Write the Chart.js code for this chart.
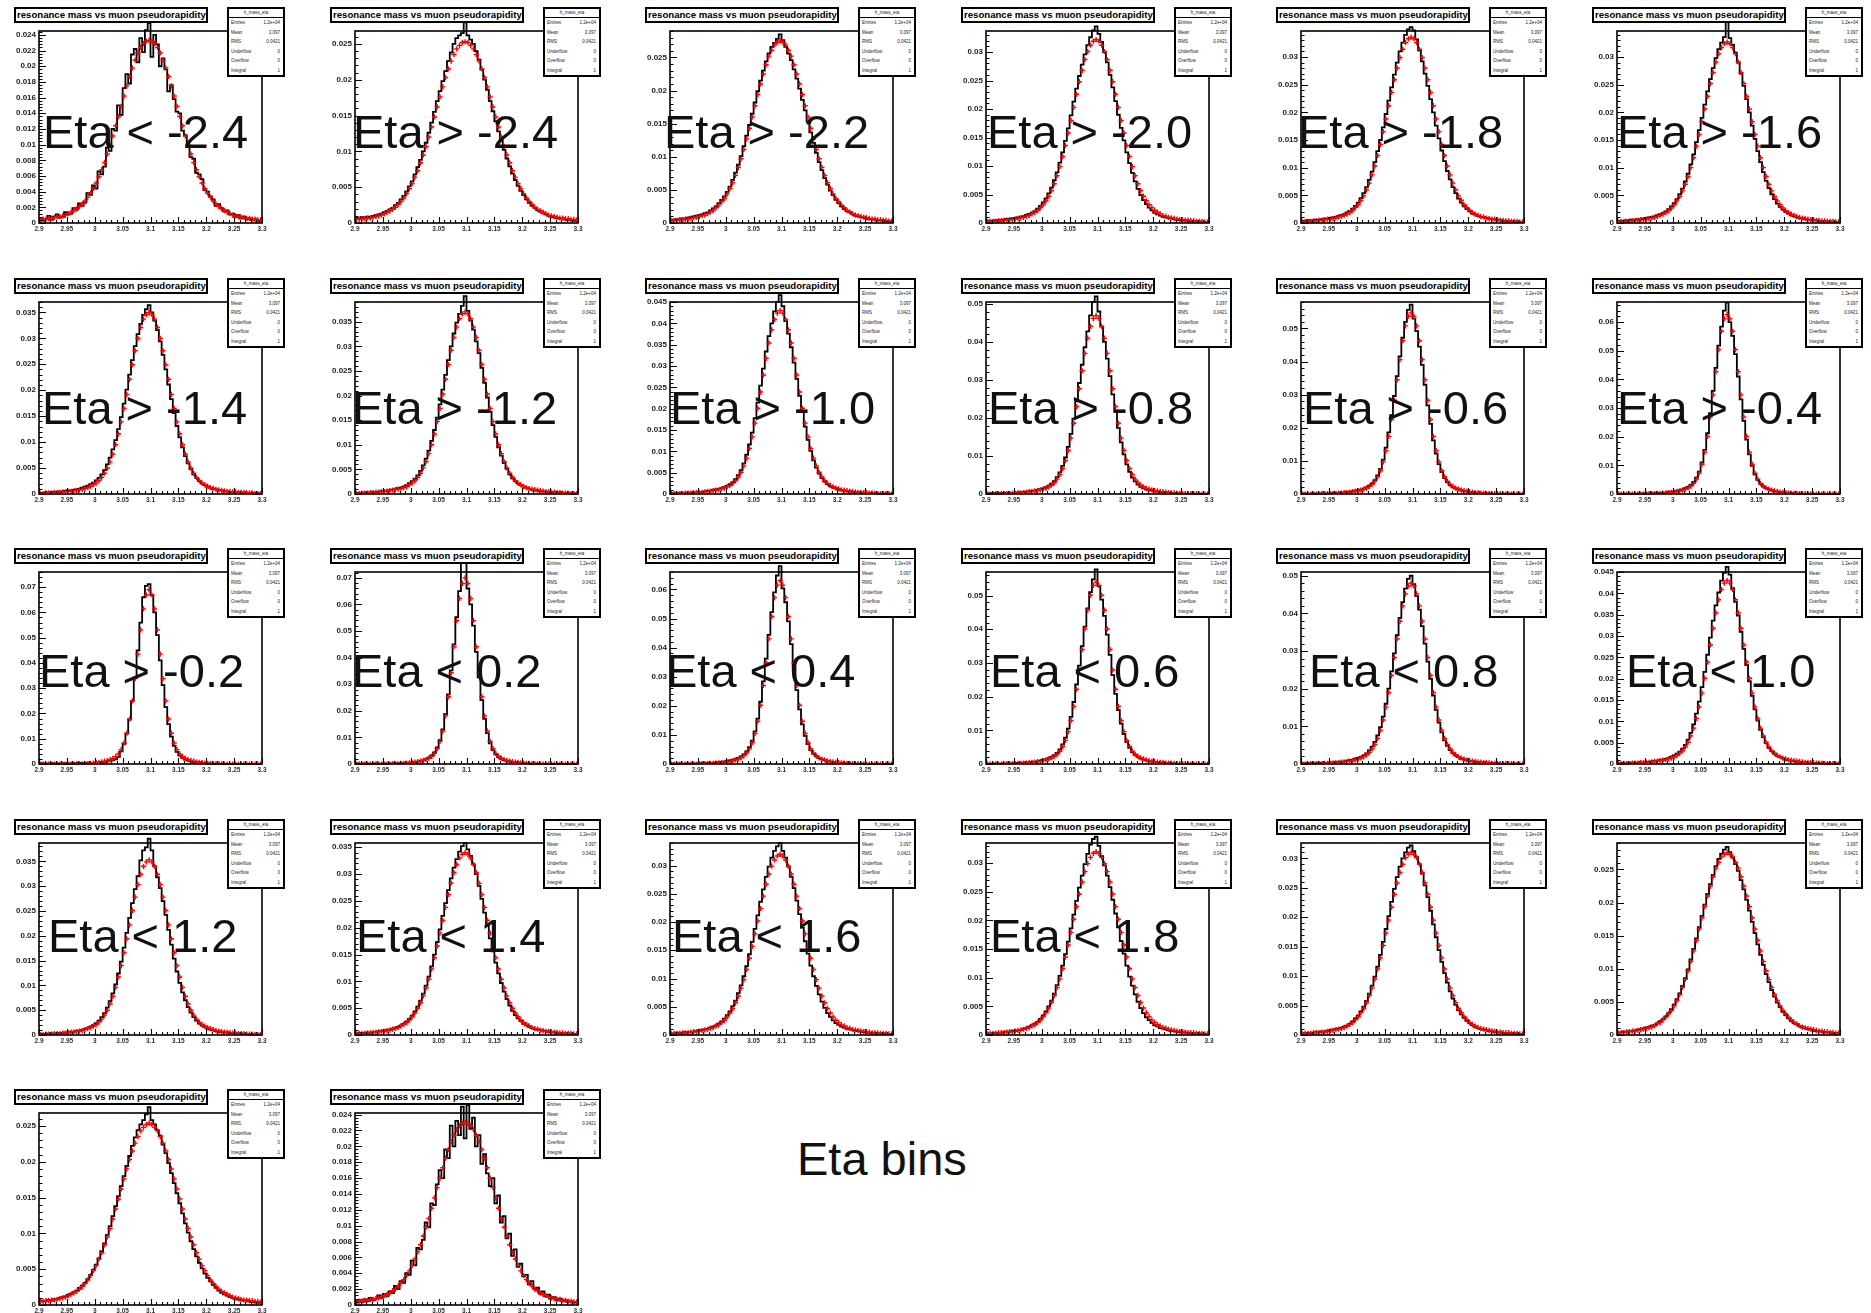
<!DOCTYPE html>
<html>
<head>
<meta charset="utf-8">
<script src="https://cdn.jsdelivr.net/npm/chart.js@4.4.1/dist/chart.umd.min.js"></script>
<style>
  html, body { margin: 0; padding: 0; background: #fff; }
  #page { position: relative; width: 1871px; height: 1313px; overflow: hidden; background: #fff; font-family: "Liberation Sans", Arial, sans-serif; }
  canvas.pad { position: absolute; }
  .ttl { position: absolute; width: 190px; height: 12px; border: 2px solid #000; background: #fff; font: bold 9.6px "Liberation Sans"; line-height: 12px; white-space: nowrap; overflow: hidden; }
  .ttl span { padding-left: 1px; }
  .stats { position: absolute; width: 54px; height: 66px; border: 2px solid #000; background: #fff; font: 4.5px "Liberation Sans"; color: #222; }
  .stats .hd { height: 8px; border-bottom: 1.5px solid #000; text-align: center; line-height: 8px; }
  .stats .row { display: flex; justify-content: space-between; height: 9.5px; line-height: 9.5px; padding: 0 3px 0 2px; }
  .eta { position: absolute; font: 47px "Liberation Sans"; line-height: 47px; color: #111; white-space: nowrap; }
</style>
</head>
<body>
<div id="page"></div>
<script>
// bin centres of the resonance mass histograms (GeV), 80 bins of 5 MeV
const massBins = [
  2.9025, 2.9075, 2.9125, 2.9175, 2.9225, 2.9275, 2.9325, 2.9375, 2.9425, 2.9475,
  2.9525, 2.9575, 2.9625, 2.9675, 2.9725, 2.9775, 2.9825, 2.9875, 2.9925, 2.9975,
  3.0025, 3.0075, 3.0125, 3.0175, 3.0225, 3.0275, 3.0325, 3.0375, 3.0425, 3.0475,
  3.0525, 3.0575, 3.0625, 3.0675, 3.0725, 3.0775, 3.0825, 3.0875, 3.0925, 3.0975,
  3.1025, 3.1075, 3.1125, 3.1175, 3.1225, 3.1275, 3.1325, 3.1375, 3.1425, 3.1475,
  3.1525, 3.1575, 3.1625, 3.1675, 3.1725, 3.1775, 3.1825, 3.1875, 3.1925, 3.1975,
  3.2025, 3.2075, 3.2125, 3.2175, 3.2225, 3.2275, 3.2325, 3.2375, 3.2425, 3.2475,
  3.2525, 3.2575, 3.2625, 3.2675, 3.2725, 3.2775, 3.2825, 3.2875, 3.2925, 3.2975
];
const xTickValues = [2.9, 2.95, 3.0, 3.05, 3.1, 3.15, 3.2, 3.25, 3.3];
const xTickLabels = ["2.9", "2.95", "3", "3.05", "3.1", "3.15", "3.2", "3.25", "3.3"];

const etaLabels = [
  "Eta < -2.4", "Eta > -2.4", "Eta > -2.2", "Eta > -2.0", "Eta > -1.8", "Eta > -1.6",
  "Eta > -1.4", "Eta > -1.2", "Eta > -1.0", "Eta > -0.8", "Eta > -0.6", "Eta > -0.4",
  "Eta > -0.2", "Eta < 0.2", "Eta < 0.4", "Eta < 0.6", "Eta < 0.8", "Eta < 1.0",
  "Eta < 1.2", "Eta < 1.4", "Eta < 1.6", "Eta < 1.8", "", "", "", ""
];

// y axis range and label step per pad, in units of 1e-4
const yMax = [245, 268, 290, 337, 347, 347, 370, 390, 450, 505, 580, 670, 760, 722, 660, 570, 510, 450, 387, 358, 340, 335, 326, 290, 268, 242];
const yStep = [20, 50, 50, 50, 50, 50, 50, 50, 50, 100, 100, 100, 100, 100, 100, 100, 100, 50, 50, 50, 50, 50, 50, 50, 50, 20];

// red points (fit) and black histogram per pad, in units of 1e-4
const fit01 = [4,5,5,6,6,7,8,8,9,10,12,14,16,18,21,24,28,33,38,44,51,59,68,77,88,99,111,124,136,149,162,175,187,198,208,217,224,229,232,233,232,229,224,217,208,198,187,175,162,149,136,124,111,99,88,77,68,59,51,44,38,33,28,24,21,18,16,14,12,10,9,8,8,7,6,6,5,5,4,4];
const hist01 = [6,3,5,9,4,8,11,7,8,14,11,12,19,17,25,22,26,38,36,48,44,66,62,72,96,92,120,118,150,138,172,190,178,215,222,205,236,218,246,255,212,240,228,200,210,196,168,176,158,142,140,118,112,100,84,82,64,62,56,42,40,34,30,22,24,19,15,16,11,12,8,10,6,8,5,6,4,5,3,2];
const fit02 = [5,5,6,6,7,7,8,9,10,11,13,15,17,19,22,26,30,35,41,48,55,64,73,84,95,107,120,134,148,162,176,190,203,215,226,235,243,248,252,253,252,248,243,235,226,215,203,190,176,162,148,134,120,107,95,84,73,64,55,48,41,35,30,26,22,19,17,15,13,11,10,9,8,7,7,6,6,5,5,4];
const hist02 = [7,6,8,7,9,8,10,11,12,13,15,17,19,21,25,28,33,38,44,51,58,68,78,88,100,112,126,140,155,170,184,198,212,226,238,250,258,262,265,280,262,256,250,240,228,214,200,186,170,156,142,128,115,102,90,79,69,60,52,45,39,33,28,24,21,18,16,14,12,10,9,8,7,6,6,5,4,4,3,3];
const fit03 = [3,4,4,5,5,6,6,7,8,9,10,11,12,14,17,19,23,27,32,37,44,52,61,72,84,97,111,127,143,160,177,194,210,225,239,252,261,269,273,275,273,269,261,252,239,225,210,194,177,160,143,127,111,97,84,72,61,52,44,37,32,27,23,19,17,14,12,11,10,9,8,7,6,6,5,5,4,4,3,3];
const hist03 = [5,4,6,5,7,6,8,9,10,11,12,13,15,16,19,22,25,30,35,40,47,55,65,76,88,101,116,132,148,165,182,199,215,230,244,256,266,272,278,285,276,266,256,246,232,218,203,186,170,153,137,121,106,92,80,68,58,49,42,35,30,25,21,18,16,13,11,10,9,8,7,6,6,5,4,4,4,3,3,2];
const fit04 = [2,3,3,3,4,4,5,5,6,6,7,8,9,10,12,13,16,19,22,27,32,39,47,57,69,83,99,117,136,158,180,203,226,248,268,287,301,312,319,322,319,312,301,287,268,248,226,203,180,158,136,117,99,83,69,57,47,39,32,27,22,19,16,13,12,10,9,8,7,6,6,5,5,4,4,3,3,3,2,2];
const hist04 = [4,3,4,5,5,4,6,7,7,8,9,10,11,12,14,16,18,21,25,30,36,43,52,62,75,89,106,124,144,166,189,213,236,258,278,296,312,326,338,345,332,318,300,282,260,238,214,190,167,145,124,105,88,73,60,49,40,33,27,22,18,15,13,11,10,9,8,7,6,5,5,4,4,3,3,3,2,2,2,2];
const fit05 = [2,3,3,3,4,4,5,5,6,7,7,8,9,11,12,14,16,19,23,28,33,41,49,60,72,87,103,122,142,165,188,212,236,259,280,299,314,326,333,336,333,326,314,299,280,259,236,212,188,165,142,122,103,87,72,60,49,41,33,28,23,19,16,14,12,11,9,8,7,7,6,5,5,4,4,3,3,3,2,2];
const hist05 = [4,3,5,4,5,6,6,7,8,8,9,10,11,13,14,16,19,22,26,31,37,45,54,65,78,93,110,130,150,173,197,221,245,268,290,310,326,340,350,354,348,332,312,292,270,248,224,200,176,153,131,112,94,79,65,54,44,37,30,25,21,17,15,13,11,10,9,8,7,6,6,5,4,4,4,3,3,2,2,2];
const fit06 = [2,3,3,3,4,4,5,5,6,6,7,8,9,10,12,14,16,19,22,27,33,40,48,58,70,84,100,118,139,160,183,206,229,252,272,291,306,317,324,327,324,317,306,291,272,252,229,206,183,160,139,118,100,84,70,58,48,40,33,27,22,19,16,14,12,10,9,8,7,6,6,5,5,4,4,3,3,3,2,2];
const hist06 = [4,4,3,5,5,6,5,7,7,8,9,10,11,12,14,16,18,21,25,30,36,43,52,62,75,89,106,124,146,168,190,214,238,260,280,298,314,326,336,375,334,322,308,290,270,248,224,200,176,152,130,110,92,76,63,52,43,35,29,24,20,17,14,12,10,9,8,7,6,6,5,5,4,4,3,3,3,2,2,2];
const fit07 = [1,1,2,2,2,3,3,3,4,4,5,5,6,7,8,9,11,12,15,18,21,26,32,40,50,62,77,95,116,139,165,192,221,249,276,300,321,337,346,350,346,337,321,300,276,249,221,192,165,139,116,95,77,62,50,40,32,26,21,18,15,12,11,9,8,7,6,5,5,4,4,3,3,3,2,2,2,1,1,1];
const hist07 = [2,2,3,2,3,4,4,5,5,6,7,7,8,9,10,12,14,16,19,22,26,31,38,46,57,70,86,104,125,148,174,201,230,258,285,308,328,345,356,364,350,334,316,294,268,240,211,183,156,131,109,90,73,59,48,38,31,25,20,17,14,12,10,9,8,7,6,5,4,4,3,3,3,2,2,2,2,1,1,1];
const fit08 = [1,1,2,2,2,3,3,4,4,5,5,6,7,8,9,10,11,13,15,19,22,27,34,42,53,66,82,100,122,147,174,203,233,263,292,318,339,356,366,370,366,356,339,318,292,263,233,203,174,147,122,100,82,66,53,42,34,27,22,19,15,13,11,10,9,8,7,6,5,5,4,4,3,3,2,2,2,1,1,1];
const hist08 = [2,2,2,3,3,3,4,4,5,6,6,7,8,9,10,12,13,15,18,22,26,31,38,47,58,72,88,108,130,155,182,212,242,272,300,326,348,366,382,402,372,352,334,310,286,256,226,196,167,140,116,95,78,63,51,40,32,26,21,18,15,13,11,9,8,7,6,5,5,4,4,3,3,3,2,2,2,1,1,1];
const fit09 = [1,1,1,1,1,2,2,2,3,3,4,4,5,6,7,8,9,10,12,14,17,20,25,31,40,51,66,84,107,134,166,201,239,279,318,354,385,409,424,430,424,409,385,354,318,279,239,201,166,134,107,84,66,51,40,31,25,20,17,14,12,10,9,8,7,6,5,4,4,3,3,2,2,2,1,1,1,1,1,0];
const hist09 = [2,1,2,2,2,2,3,3,3,4,5,5,6,7,8,9,11,12,14,16,19,23,28,35,44,56,72,92,116,144,178,214,254,294,334,370,400,428,450,466,440,405,376,344,308,270,230,192,158,127,101,79,62,48,37,29,23,18,15,13,11,9,8,7,6,5,4,4,3,3,3,2,2,2,1,1,1,1,1,1];
const fit10 = [0,0,0,1,1,1,1,1,2,2,2,3,3,4,5,6,7,8,9,11,13,15,19,23,30,39,51,67,88,115,147,186,230,277,324,370,410,441,462,469,462,441,410,370,324,277,230,186,147,115,88,67,51,39,30,23,19,15,13,11,9,8,7,6,5,4,3,3,2,2,2,1,1,1,1,1,0,0,0,0];
const hist10 = [2,1,2,2,1,2,2,3,2,3,3,4,4,5,6,7,8,9,11,13,15,18,22,27,34,44,57,74,96,124,158,198,244,292,340,386,428,470,505,520,480,440,400,356,310,262,216,174,136,104,78,58,43,33,25,19,15,12,10,9,7,6,5,5,4,3,3,2,2,2,1,1,1,1,1,1,1,0,0,1];
const fit11 = [0,0,0,0,0,0,0,1,1,1,1,2,2,3,3,4,5,6,7,9,10,12,15,18,23,29,39,52,71,97,131,174,225,283,345,406,463,508,537,547,537,508,463,406,345,283,225,174,131,97,71,52,39,29,23,18,15,12,10,9,7,6,5,4,3,3,2,2,1,1,1,1,0,0,0,0,0,0,0,0];
const hist11 = [1,2,1,1,2,1,2,2,1,2,2,3,3,4,4,5,6,7,8,10,11,13,16,20,25,32,42,56,76,104,140,186,238,296,356,416,472,520,556,572,530,492,445,390,330,268,212,162,122,90,66,48,36,27,21,16,13,11,9,8,6,5,4,4,3,3,2,2,1,1,1,1,1,1,0,1,0,0,0,0];
const fit12 = [0,0,0,0,0,0,0,0,0,0,1,1,1,1,2,2,3,4,5,6,7,9,11,14,17,21,28,37,52,73,104,146,201,269,346,427,504,568,611,626,611,568,504,427,346,269,201,146,104,73,52,37,28,21,17,14,11,9,7,6,5,4,3,2,2,1,1,1,1,0,0,0,0,0,0,0,0,0,0,0];
const hist12 = [1,1,0,1,1,1,1,1,2,1,2,2,2,3,3,4,4,5,6,8,9,11,13,16,20,25,32,42,57,78,110,154,212,282,360,440,518,584,640,668,600,552,488,410,330,255,190,138,98,69,49,35,26,20,16,13,10,8,7,6,5,4,3,2,2,1,1,1,1,1,0,0,0,0,0,0,0,0,0,0];
const fit13 = [0,0,0,0,0,0,0,0,0,0,0,0,0,1,1,1,2,2,3,4,6,7,9,11,14,17,22,29,40,57,83,122,178,250,338,435,531,614,669,690,669,614,531,435,338,250,178,122,83,57,40,29,22,17,14,11,9,7,6,4,3,2,2,1,1,1,0,0,0,0,0,0,0,0,0,0,0,0,0,0];
const hist13 = [3,2,2,1,3,2,1,2,3,2,1,2,3,2,4,2,3,3,4,3,5,4,6,8,10,12,14,18,28,50,80,120,176,250,342,450,560,660,705,712,668,600,510,410,312,225,158,108,72,48,33,23,17,13,10,8,6,5,4,3,2,2,1,1,1,1,0,0,0,0,0,0,0,0,0,0,0,0,0,0];
const fit14 = [0,0,0,0,0,0,0,0,0,0,0,0,0,1,1,1,2,2,3,4,6,7,9,11,14,17,22,29,40,58,85,124,181,253,343,441,539,623,679,700,679,623,539,441,343,253,181,124,85,58,40,29,22,17,14,11,9,7,6,4,3,2,2,1,1,1,0,0,0,0,0,0,0,0,0,0,0,0,0,0];
const hist14 = [2,1,1,2,1,1,1,2,1,1,2,1,2,2,3,2,3,3,4,5,6,7,9,11,14,18,24,32,44,62,90,130,188,262,352,450,552,650,790,760,660,600,520,422,326,240,170,116,78,52,36,26,19,15,12,9,7,6,5,4,3,2,2,1,1,1,1,0,0,0,0,0,0,0,0,0,0,0,0,0];
const fit15 = [0,0,0,0,0,0,0,0,0,0,1,1,1,1,2,2,3,4,5,6,7,9,11,14,17,21,28,38,52,74,105,147,202,270,348,430,507,572,615,630,615,572,507,430,348,270,202,147,105,74,52,38,28,21,17,14,11,9,7,6,5,4,3,2,2,1,1,1,1,0,0,0,0,0,0,0,0,0,0,0];
const hist15 = [2,1,1,2,1,1,2,1,2,2,2,3,3,3,4,4,5,6,7,8,10,12,14,17,21,26,33,43,58,80,112,156,214,284,362,444,522,590,648,680,604,556,490,412,330,254,188,136,97,68,48,35,26,20,16,13,10,8,7,5,4,4,3,2,2,1,1,1,1,1,0,0,0,0,0,0,0,0,0,0];
const fit16 = [0,0,0,0,0,0,0,1,1,1,1,2,2,3,3,4,5,6,7,8,10,12,15,18,23,29,38,52,70,96,129,171,222,279,340,401,457,501,530,540,530,501,457,401,340,279,222,171,129,96,70,52,38,29,23,18,15,12,10,8,7,6,5,4,3,3,2,2,1,1,1,1,0,0,0,0,0,0,0,0];
const hist16 = [1,1,1,2,1,1,2,2,2,2,3,3,3,4,5,5,6,7,8,10,12,14,17,21,26,33,43,58,78,105,140,184,236,292,350,408,462,510,548,578,528,488,440,384,324,264,208,160,120,89,65,48,35,27,21,16,13,11,9,7,6,5,4,4,3,3,2,2,1,1,1,1,1,0,1,0,0,0,0,0];
const fit17 = [0,0,0,1,1,1,1,1,2,2,2,3,4,4,5,6,7,8,9,11,13,16,19,24,31,40,52,68,90,117,151,190,235,283,332,379,420,452,473,480,473,452,420,379,332,283,235,190,151,117,90,68,52,40,31,24,19,16,13,11,9,8,7,6,5,4,4,3,2,2,2,1,1,1,1,1,0,0,0,0];
const hist17 = [1,2,1,2,2,2,3,2,3,3,4,4,5,5,6,7,8,10,11,14,16,19,23,28,36,46,59,76,98,126,160,200,246,294,342,388,430,466,492,500,478,446,410,366,320,272,226,182,144,110,84,63,48,37,29,22,18,14,12,10,8,7,6,5,4,4,3,3,2,2,2,1,1,1,1,1,0,1,0,0];
const fit18 = [1,1,1,1,1,2,2,2,3,3,4,4,5,6,7,8,9,10,12,14,17,20,25,31,40,51,66,84,107,134,166,201,239,279,318,354,385,409,424,430,424,409,385,354,318,279,239,201,166,134,107,84,66,51,40,31,25,20,17,14,12,10,9,8,7,6,5,4,4,3,3,2,2,2,1,1,1,1,1,0];
const hist18 = [2,2,2,1,2,3,3,3,4,4,4,5,6,7,8,9,10,12,14,17,20,24,29,36,45,57,73,93,118,146,180,216,256,296,336,372,402,430,448,462,444,412,380,348,310,270,232,194,160,128,102,80,63,49,38,30,24,19,16,13,11,9,8,7,6,5,4,4,3,3,2,2,2,2,1,1,1,1,1,1];
const fit19 = [1,1,2,2,2,3,3,3,4,4,5,6,6,7,8,9,11,13,15,18,21,26,32,40,50,63,78,96,117,140,166,194,222,251,278,303,324,340,349,353,349,340,324,303,278,251,222,194,166,140,117,96,78,63,50,40,32,26,21,18,15,13,11,9,8,7,6,6,5,4,4,3,3,3,2,2,2,1,1,1];
const hist19 = [2,2,2,3,2,3,3,4,4,5,5,6,7,8,9,10,12,14,17,20,24,29,36,44,55,68,84,102,124,148,176,206,236,266,294,320,352,372,378,396,372,340,318,296,270,242,212,182,154,128,105,86,70,56,45,36,29,23,19,16,13,11,10,8,7,6,6,5,4,4,3,3,3,2,2,2,1,1,1,1];
const fit20 = [2,3,3,3,4,4,5,5,6,7,7,8,9,11,12,14,17,20,23,28,34,41,50,60,73,88,104,123,144,166,190,214,238,262,283,303,318,330,337,340,337,330,318,303,283,262,238,214,190,166,144,123,104,88,73,60,50,41,34,28,23,20,17,14,12,11,9,8,7,7,6,5,5,4,4,3,3,3,2,2];
const hist20 = [3,4,3,4,5,4,5,6,7,7,8,9,10,12,13,15,18,21,25,30,36,44,53,64,77,92,109,128,150,173,197,222,246,270,292,312,328,342,352,358,346,334,318,300,278,254,228,204,180,156,135,115,97,81,67,55,45,37,31,26,21,18,15,13,11,10,9,8,7,6,5,5,4,4,3,3,3,2,2,2];
const fit21 = [2,3,3,3,4,4,4,5,6,6,7,8,9,10,12,13,16,18,22,26,32,39,47,57,69,83,98,116,136,157,179,202,224,246,267,285,299,310,317,320,317,310,299,285,267,246,224,202,179,157,136,116,98,83,69,57,47,39,32,26,22,18,16,13,12,10,9,8,7,6,6,5,4,4,4,3,3,3,2,2];
const hist21 = [3,3,4,3,4,5,5,5,6,7,8,9,10,11,13,15,17,20,24,29,35,42,51,61,74,88,104,122,143,165,188,212,236,258,280,298,314,326,334,340,326,314,298,280,260,238,214,190,166,144,123,104,87,72,59,48,39,32,26,21,18,15,13,11,10,9,8,7,6,5,5,4,4,4,3,3,3,2,2,2];
const fit22 = [2,3,3,3,4,4,4,5,6,6,7,8,9,10,12,13,16,18,22,26,32,39,47,57,69,83,98,116,136,157,179,202,224,246,267,285,299,310,317,320,317,310,299,285,267,246,224,202,179,157,136,116,98,83,69,57,47,39,32,26,22,18,16,13,12,10,9,8,7,6,6,5,4,4,4,3,3,3,2,2];
const hist22 = [3,2,3,4,4,4,5,6,6,7,7,8,9,11,12,14,17,20,23,28,34,41,50,60,72,87,103,121,141,163,186,210,234,257,278,298,316,332,342,346,330,312,296,278,258,236,212,188,164,142,121,102,86,71,58,47,38,31,26,21,17,15,12,11,10,8,7,7,6,5,5,4,4,3,3,3,2,2,2,2];
const fit23 = [2,3,3,3,4,4,4,5,5,6,7,8,9,10,11,13,15,18,21,26,31,38,45,55,67,80,95,112,131,152,173,195,217,239,258,276,290,301,307,310,307,301,290,276,258,239,217,195,173,152,131,112,95,80,67,55,45,38,31,26,21,18,15,13,11,10,9,8,7,6,5,5,4,4,4,3,3,3,2,2];
const hist23 = [3,3,3,4,4,5,5,6,6,7,8,9,10,11,12,14,16,19,23,28,33,40,48,58,70,84,99,116,136,158,180,202,226,248,268,286,300,310,318,322,312,302,290,274,254,234,211,188,166,144,124,105,89,74,62,51,42,35,29,24,20,17,14,12,10,9,8,7,6,5,5,4,4,3,3,3,3,2,2,2];
const fit24 = [3,4,4,5,5,6,6,7,8,9,10,11,12,14,17,19,23,27,32,37,44,52,61,72,84,97,111,127,143,160,177,194,210,225,239,252,261,269,273,275,273,269,261,252,239,225,210,194,177,160,143,127,111,97,84,72,61,52,44,37,32,27,23,19,17,14,12,11,10,9,8,7,6,6,5,5,4,4,3,3];
const hist24 = [4,4,5,5,6,6,7,8,9,10,11,12,14,15,18,21,24,28,33,39,46,54,63,74,86,99,114,130,146,163,180,197,213,228,242,255,266,274,280,284,276,268,258,248,234,220,204,188,171,154,137,121,106,92,80,68,58,49,42,35,30,25,21,18,16,13,11,10,9,8,7,6,6,5,4,4,4,3,3,3];
const fit25 = [5,5,6,6,7,7,8,9,10,11,13,15,17,19,22,26,30,35,41,48,55,64,73,84,95,107,120,134,148,162,176,190,203,215,226,235,243,248,252,254,252,248,243,235,226,215,203,190,176,162,148,134,120,107,95,84,73,64,55,48,41,35,30,26,22,19,17,15,13,11,10,9,8,7,7,6,6,5,5,4];
const hist25 = [6,5,6,7,6,8,8,10,11,12,14,16,18,20,24,27,31,36,42,49,56,65,75,86,98,110,124,138,152,166,180,194,208,222,234,244,252,258,266,276,258,252,244,236,224,212,198,184,170,156,142,128,114,101,89,78,68,59,51,44,38,33,28,24,20,17,15,13,11,10,9,8,7,6,6,5,4,4,3,3];
const fit26 = [4,5,5,6,6,7,7,8,9,10,12,13,15,18,20,24,28,32,37,43,50,58,67,76,87,98,109,122,135,148,160,173,185,196,206,214,221,226,229,230,229,226,221,214,206,196,185,173,160,148,135,122,109,98,87,76,67,58,50,43,37,32,28,24,20,18,15,13,12,10,9,8,7,7,6,6,5,5,4,4];
const hist26 = [3,6,4,7,5,9,6,8,12,9,14,11,17,15,24,20,30,28,40,38,56,50,72,70,82,104,98,128,126,152,170,160,196,185,226,200,232,214,250,210,252,222,236,200,214,178,190,166,150,160,128,138,104,112,84,90,62,70,48,52,36,38,26,30,20,22,14,17,11,13,8,10,6,8,5,6,4,5,3,3];

const fits = [fit01, fit02, fit03, fit04, fit05, fit06, fit07, fit08, fit09, fit10, fit11, fit12, fit13,
              fit14, fit15, fit16, fit17, fit18, fit19, fit20, fit21, fit22, fit23, fit24, fit25, fit26];
const hists = [hist01, hist02, hist03, hist04, hist05, hist06, hist07, hist08, hist09, hist10, hist11, hist12, hist13,
               hist14, hist15, hist16, hist17, hist18, hist19, hist20, hist21, hist22, hist23, hist24, hist25, hist26];

// where the big eta labels sit: [left, baseline]
const labelPos = [
  [43, 148], [353, 148], [664, 148], [987, 148], [1298, 148], [1617, 148],
  [42, 424], [352, 424], [670, 424], [988, 424], [1303, 424], [1617, 424],
  [39, 687], [352, 687], [666, 687], [990, 687], [1309, 687], [1626, 687],
  [48, 952], [356, 952], [672, 952], [990, 952]
];

const FONT = "Liberation Sans";
const BIN_HALF = 0.0025;

// frame box and ROOT style ticks pointing into the frame
const rootAxes = {
  id: "rootAxes",
  afterDraw(chart) {
    const { ctx, chartArea: a, scales: { x, y } } = chart;
    ctx.save();
    ctx.strokeStyle = "#000";
    ctx.lineWidth = 1.6;
    ctx.strokeRect(a.left, a.top, a.right - a.left, a.bottom - a.top);
    ctx.lineWidth = 1.1;
    ctx.beginPath();
    for (let k = 0; k <= 40; k++) {
      const px = Math.round(x.getPixelForValue(2.9 + k * 0.01)) + 0.5;
      const len = k % 5 === 0 ? 6 : 3;
      ctx.moveTo(px, a.bottom);
      ctx.lineTo(px, a.bottom - len);
    }
    const minor = chart.options.scales.y.ticks.stepSize / 5;
    for (let m = 0; m * minor <= y.max; m++) {
      const py = Math.round(y.getPixelForValue(m * minor)) + 0.5;
      const len = m % 5 === 0 ? 7 : 3.5;
      ctx.moveTo(a.left, py);
      ctx.lineTo(a.left + len, py);
    }
    ctx.stroke();
    ctx.restore();
  }
};

const page = document.getElementById("page");

function addDiv(cls, left, top, html) {
  const d = document.createElement("div");
  d.className = cls;
  d.style.left = left + "px";
  d.style.top = top + "px";
  d.innerHTML = html;
  page.appendChild(d);
  return d;
}

const statsHtml =
  '<div class="hd">h_mass_eta</div>' +
  '<div class="row"><span>Entries</span><span>1.2e+04</span></div>' +
  '<div class="row"><span>Mean</span><span>3.097</span></div>' +
  '<div class="row"><span>RMS</span><span>0.0421</span></div>' +
  '<div class="row"><span>Underflow</span><span>0</span></div>' +
  '<div class="row"><span>Overflow</span><span>0</span></div>' +
  '<div class="row"><span>Integral</span><span>1</span></div>';

for (let p = 0; p < 26; p++) {
  const c = p % 6, r = Math.floor(p / 6);
  const fx = Math.round(39 + 315.5 * c);
  const rowTop = Math.round(7 + 270.5 * r);

  const cv = document.createElement("canvas");
  cv.className = "pad";
  cv.width = 271;
  cv.height = 230;
  cv.style.left = (fx - 38) + "px";
  cv.style.top = rowTop + "px";
  page.appendChild(cv);

  const fitPts = massBins.map((m, i) => ({ x: m, y: fits[p][i] }));
  const histPts = massBins.map((m, i) => ({ x: m - BIN_HALF, y: hists[p][i] }));
  histPts.push({ x: 3.3, y: hists[p][hists[p].length - 1] });

  new Chart(cv.getContext("2d"), {
    type: "line",
    data: {
      datasets: [
        {
          label: "fit",
          data: fitPts,
          showLine: false,
          pointStyle: "cross",
          pointRadius: 2.6,
          pointBorderWidth: 1.4,
          pointBorderColor: "#ff0000",
          pointBackgroundColor: "#ff0000"
        },
        {
          label: "data",
          data: histPts,
          stepped: true,
          borderColor: "#000",
          borderWidth: 1.8,
          pointRadius: 0,
          fill: false,
          clip: false
        }
      ]
    },
    options: {
      responsive: false,
      animation: false,
      devicePixelRatio: 1,
      events: [],
      layout: { padding: { top: 24, right: 10, left: 0, bottom: 0 } },
      plugins: { legend: { display: false }, tooltip: { enabled: false } },
      scales: {
        x: {
          type: "linear",
          min: 2.9,
          max: 3.3,
          grid: { display: false, drawTicks: false },
          border: { display: false },
          afterBuildTicks: s => { s.ticks = xTickValues.map(v => ({ value: v })); },
          afterFit: s => { s.height = 14; },
          ticks: {
            autoSkip: false,
            maxRotation: 0,
            padding: 2,
            color: "#333",
            font: { family: FONT, size: 6.5, weight: "bold" },
            callback: (v, i) => xTickLabels[i]
          }
        },
        y: {
          min: 0,
          max: yMax[p],
          grid: { display: false, drawTicks: false },
          border: { display: false },
          afterBuildTicks: s => {
            const t = [];
            for (let v = 0; v <= yMax[p]; v += yStep[p]) t.push({ value: v });
            s.ticks = t;
          },
          afterFit: s => { s.width = 38; },
          ticks: {
            stepSize: yStep[p],
            padding: 3,
            color: "#222",
            font: { family: FONT, size: 8, weight: "bold" },
            callback: v => String(+(v / 1e4).toFixed(4))
          }
        }
      }
    },
    plugins: [rootAxes]
  });

  addDiv("ttl", fx - 25, rowTop, "<span>resonance mass vs muon pseudorapidity</span>");
  addDiv("stats", fx + 188, rowTop, statsHtml);
}

for (let p = 0; p < labelPos.length; p++) {
  if (!etaLabels[p]) continue;
  const [lx, base] = labelPos[p];
  addDiv("eta", lx, Math.round(base - 39.8), etaLabels[p]);
}
addDiv("eta", 797, Math.round(1175 - 39.8), "Eta bins");
</script>
</body>
</html>
